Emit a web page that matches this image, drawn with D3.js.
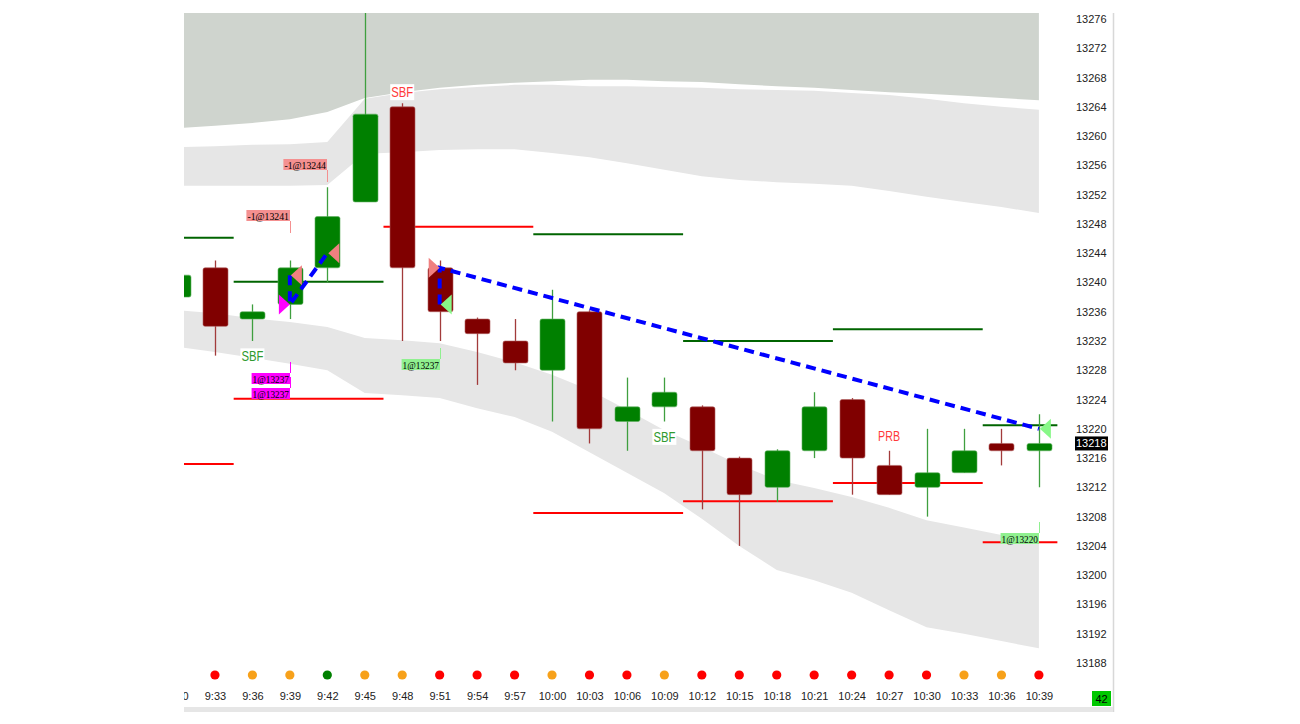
<!DOCTYPE html>
<html><head><meta charset="utf-8">
<script src="https://cdn.jsdelivr.net/npm/d3@7"></script>
<style>body{margin:0;background:#fff}svg{display:block}</style>
</head><body>
<svg id="chart" width="1300" height="724"></svg>
<script>
// ---------- data ----------
const times  = ["9:30","9:33","9:36","9:39","9:42","9:45","9:48","9:51","9:54","9:57","10:00","10:03","10:06","10:09","10:12","10:15","10:18","10:21","10:24","10:27","10:30","10:33","10:36","10:39"];
const opens  = [13238,13242,13235,13237,13242,13251,13264,13242,13235,13232,13228,13236,13221,13223,13223,13216,13212,13217,13224,13215,13212,13214,13218,13217];
const highs  = [13242,13243,13237,13243,13253,13280,13264.5,13243,13235.2,13235,13239,13236.2,13227,13227,13223.2,13216.2,13217.2,13225,13224.2,13217,13220,13220,13220,13222];
const lows   = [13236,13230,13232,13235,13240,13251,13232,13232,13226,13228,13221,13218,13217,13221,13209,13204,13210,13216,13211,13211,13208,13214,13215,13212];
const closes = [13241,13234,13236,13242,13249,13263,13242,13236,13233,13229,13235,13220,13223,13225,13217,13211,13217,13223,13216,13211,13214,13217,13217,13218];

// envelope bands (per bar)
const outerUpper      = [13261.1,13261.4,13261.8,13262.3,13263.3,13265.2,13266.0,13266.6,13267.0,13267.3,13267.5,13267.7,13267.7,13267.5,13267.4,13267.1,13266.8,13266.6,13266.3,13266.0,13265.8,13265.5,13265.2,13264.9];
const innerUpperTop   = [13258.5,13258.6,13258.8,13258.9,13259.2,13265.1,13265.9,13266.4,13266.7,13267.0,13267.0,13266.8,13266.8,13266.7,13266.6,13266.4,13266.3,13266.2,13265.9,13265.6,13265.1,13264.5,13264.0,13263.6];
const innerUpperBot   = [13253.2,13253.2,13253.2,13253.2,13253.3,13257.6,13257.8,13258.1,13258.2,13258.2,13257.7,13257.1,13256.3,13255.4,13254.5,13254.0,13253.7,13253.5,13253.2,13252.5,13251.7,13251.0,13250.3,13249.5];
const lowerTop        = [13236.2,13235.8,13235.1,13234.6,13233.9,13232.4,13232.1,13231.7,13230.5,13229.1,13227.4,13225.3,13222.6,13219.8,13217.5,13215.1,13213.0,13211.9,13210.7,13209.2,13207.5,13206.5,13205.5,13204.7];
const lowerBot        = [13231.2,13230.5,13229.7,13228.9,13228.0,13224.9,13224.6,13224.2,13222.8,13221.6,13219.6,13216.8,13214.0,13211.2,13207.7,13204.0,13200.7,13199.3,13197.6,13195.2,13192.9,13192.0,13191.0,13190.0];

// level segments (bar-index spans)
const levelStart  = [-2.5, 1.5, 5.5, 9.5, 13.5, 17.5, 21.5];
const levelEnd    = [ 1.5, 5.5, 9.5, 13.5, 17.5, 21.5, 23.5];
const greenLevels = [13246.1, 13240.1, null, 13246.6, 13232.0, 13233.6, 13220.5];
const redLevels   = [13215.2, 13224.1, 13247.6, 13208.5, 13210.1, 13212.6, 13204.5];

// trade markers
const markerIdx   = [3, 3, 4, 7, 7, 23];
const markerPrice = [13241, 13237, 13244, 13242, 13237, 13220];
const markerDir   = ["left","right","left","right","left","left"];
const markerKind  = ["sell","buyM","sell","sell","buy","buy"];

// trade paths
const path1Idx = [3, 3, 4],  path1Price = [13241, 13237, 13244];
const path2Idx = [7, 7, 23], path2Price = [13237, 13242, 13220];

// trade labels
const labelText  = ["-1@13244","-1@13241","1@13237","1@13237","1@13237","1@13220"];
const labelIdx   = [4, 3, 3, 3, 7, 23];
const labelTop   = [13256.9, 13249.9, 13227.6, 13225.6, 13229.5, 13205.8];
const labelSide  = ["sell","sell","buyM","buyM","buy","buy"];

// signal texts
const signalText  = ["SBF","SBF","SBF","PRB"];
const signalIdx   = [6, 2, 13, 19];
const signalPrice = [13266.0, 13229.9, 13218.9, 13219.0];
const signalKind  = ["red","green","green","red"];

// state dots per bar
const dotState = [null,"r","o","o","g","o","o","r","r","r","o","r","r","o","r","r","r","r","r","r","r","o","o","r"];

const yTicks = d3.range(13188, 13277, 4);
const lastPrice = 13218;
const counterText = "42";

// ---------- layout ----------
const svg = d3.select("#chart");
const plotL = 184, plotR = 1057.6, plotT = 13, plotB = 690;
const x = d3.scaleLinear().domain([0, 23]).range([177.5, 1038.9]);
const y = d3.scaleLinear().domain([13188, 13276]).range([663, 19]);
const idx = d3.range(times.length);

const defs = svg.append("defs");
defs.append("clipPath").attr("id","plotClip").append("rect")
  .attr("x",plotL).attr("y",plotT).attr("width",plotR-plotL).attr("height",plotB-plotT);
defs.append("clipPath").attr("id","axisClip").append("rect")
  .attr("x",plotL).attr("y",660).attr("width",1113-plotL).attr("height",50);

const plot = svg.append("g").attr("clip-path","url(#plotClip)");

// bands
plot.append("path").datum(idx)
  .attr("d", d3.area().x(i=>x(i)).y0(i=>y(outerUpper[i])).y1(plotT))
  .attr("fill","#cfd4ce");
plot.append("path").datum(idx)
  .attr("d", d3.area().x(i=>x(i)).y0(i=>y(innerUpperBot[i])).y1(i=>y(innerUpperTop[i])))
  .attr("fill","#e6e6e6");
plot.append("path").datum(idx)
  .attr("d", d3.area().x(i=>x(i)).y0(i=>y(lowerBot[i])).y1(i=>y(lowerTop[i])))
  .attr("fill","#e6e6e6");

// levels
const lv = d3.range(levelStart.length);
plot.selectAll(".gl").data(lv.filter(k=>greenLevels[k]!==null)).enter().append("line")
  .attr("x1",k=>x(levelStart[k])).attr("x2",k=>x(levelEnd[k]))
  .attr("y1",k=>y(greenLevels[k])).attr("y2",k=>y(greenLevels[k]))
  .attr("stroke","#006400").attr("stroke-width",2);
plot.selectAll(".rl").data(lv).enter().append("line")
  .attr("x1",k=>x(levelStart[k])).attr("x2",k=>x(levelEnd[k]))
  .attr("y1",k=>y(redLevels[k])).attr("y2",k=>y(redLevels[k]))
  .attr("stroke","#ff0000").attr("stroke-width",2);

// candles
const up = i => closes[i] >= opens[i];
plot.selectAll(".wick").data(idx).enter().append("line")
  .attr("x1",i=>Math.round(x(i))+0.5).attr("x2",i=>Math.round(x(i))+0.5)
  .attr("y1",i=>y(highs[i])).attr("y2",i=>y(lows[i]))
  .attr("stroke",i=>up(i)?"#3f9f3f":"#a23b3b").attr("stroke-width",1.3);
const bw = 25;
plot.selectAll(".body").data(idx).enter().append("rect")
  .attr("x",i=>Math.round(x(i))-bw/2+0.5).attr("width",bw)
  .attr("y",i=>y(Math.max(opens[i],closes[i])))
  .attr("height",i=>Math.max(2, Math.abs(y(opens[i])-y(closes[i]))))
  .attr("rx",2)
  .attr("fill",i=>up(i)?"#008000":"#800000")
  .attr("stroke",i=>up(i)?"#5fb05f":"#b06060").attr("stroke-width",0.6);

// dashed trade paths
const ln = d3.line().x(d=>x(d[0])).y(d=>y(d[1]));
[[path1Idx,path1Price],[path2Idx,path2Price]].forEach(([a,b])=>{
  plot.append("path").datum(a.map((v,k)=>[v,b[k]]))
    .attr("d",ln).attr("fill","none").attr("stroke","#0000ff")
    .attr("stroke-width",4).attr("stroke-dasharray","10,6");
});

// markers
const markerFill = {sell:"#f08080", buyM:"#ff00ff", buy:"#88f888"};
plot.selectAll(".mk").data(d3.range(markerIdx.length)).enter().append("path")
  .attr("d",k=>{
    const cx = x(markerIdx[k]), cy = y(markerPrice[k]);
    if (markerDir[k]==="left") return `M${cx+1},${cy} L${cx+12},${cy-10} L${cx+12},${cy+10} Z`;
    return `M${cx},${cy} L${cx-11},${cy-10} L${cx-11},${cy+10} Z`;
  })
  .attr("fill",k=>markerFill[markerKind[k]]);

// trade labels
const labelFill = {sell:"#f49090", buyM:"#ff00ff", buy:"#90f090"};
const tl = plot.selectAll(".tl").data(d3.range(labelText.length)).enter().append("g");
tl.each(function(k){
  const g = d3.select(this);
  const rx = Math.round(x(labelIdx[k]));
  const ty = Math.round(y(labelTop[k]));
  const tw = labelText[k].length * 5.2;
  g.append("rect").attr("x",rx-tw-2).attr("y",ty).attr("width",tw+2).attr("height",11)
    .attr("fill",labelFill[labelSide[k]]);
  g.append("text").text(labelText[k])
    .attr("font-family","Liberation Serif, serif").attr("font-size",11)
    .attr("textLength",tw).attr("lengthAdjust","spacingAndGlyphs")
    .attr("x",rx-tw-1).attr("y",ty+9.5).attr("fill","#000");
  const ly1 = labelSide[k]==="sell" ? ty+11 : ty-11;
  const ly2 = labelSide[k]==="sell" ? ty+23 : ty;
  g.append("line").attr("x1",rx+0.5).attr("x2",rx+0.5).attr("y1",ly1).attr("y2",ly2)
    .attr("stroke",labelFill[labelSide[k]]).attr("stroke-width",1);
});

// signal texts
const sigColor = {red:"#ff3a3a", green:"#2f9a2f"};
const sg = plot.selectAll(".sg").data(d3.range(signalText.length)).enter().append("g");
sg.each(function(k){
  const g = d3.select(this);
  const cx = x(signalIdx[k]), cy = y(signalPrice[k]);
  g.append("rect").attr("x",cx-12).attr("y",cy-8).attr("width",24).attr("height",16).attr("fill","#fff");
  g.append("text").text(signalText[k]).attr("x",cx).attr("y",cy+5)
    .attr("text-anchor","middle").attr("font-family","Liberation Sans, Arial, sans-serif")
    .attr("font-size",14).attr("textLength",22).attr("lengthAdjust","spacingAndGlyphs")
    .attr("fill",sigColor[signalKind[k]]);
});

// state dots
const dotFill = {r:"#ff0000", o:"#f7a11a", g:"#008000"};
svg.append("g").attr("clip-path","url(#axisClip)").selectAll("circle")
  .data(idx.filter(i=>dotState[i])).enter().append("circle")
  .attr("cx",i=>x(i)).attr("cy",675).attr("r",4.6).attr("fill",i=>dotFill[dotState[i]]);

// x axis labels
const xAxis = d3.axisBottom(x).tickValues(idx).tickFormat(i=>times[i]).tickSize(0).tickPadding(0);
const xg = svg.append("g").attr("clip-path","url(#axisClip)")
  .append("g").attr("transform","translate(0,692)").call(xAxis);
xg.select(".domain").remove();
xg.selectAll("text").attr("font-family","Liberation Sans, Arial, sans-serif").attr("font-size",11).attr("fill","#222");

// y axis labels
const yAxis = d3.axisRight(y).tickValues(yTicks).tickFormat(d3.format("d")).tickSize(0).tickPadding(0);
const yg = svg.append("g").attr("transform","translate(1076,0)").call(yAxis);
yg.select(".domain").remove();
yg.selectAll("text").attr("font-family","Liberation Sans, Arial, sans-serif").attr("font-size",11).attr("fill","#222");

// last price tag
svg.append("rect").attr("x",1075).attr("y",y(lastPrice)-7).attr("width",33).attr("height",14).attr("fill","#000");
svg.append("text").text(lastPrice).attr("x",1076).attr("y",y(lastPrice)+4)
  .attr("font-family","Liberation Sans, Arial, sans-serif").attr("font-size",11).attr("fill","#fff");

// frame pieces
svg.append("line").attr("x1",1113.5).attr("x2",1113.5).attr("y1",13).attr("y2",712).attr("stroke","#d8d8d8").attr("stroke-width",1.5);
svg.append("rect").attr("x",plotL).attr("y",707).attr("width",1113-plotL).attr("height",5).attr("fill","#e6e6e6");
svg.append("rect").attr("x",1092).attr("y",691).attr("width",19).attr("height",15).attr("fill","#00c800");
svg.append("text").text(counterText).attr("x",1101.5).attr("y",703).attr("text-anchor","middle")
  .attr("font-family","Liberation Sans, Arial, sans-serif").attr("font-size",11).attr("fill","#000");
</script>
</body></html>
